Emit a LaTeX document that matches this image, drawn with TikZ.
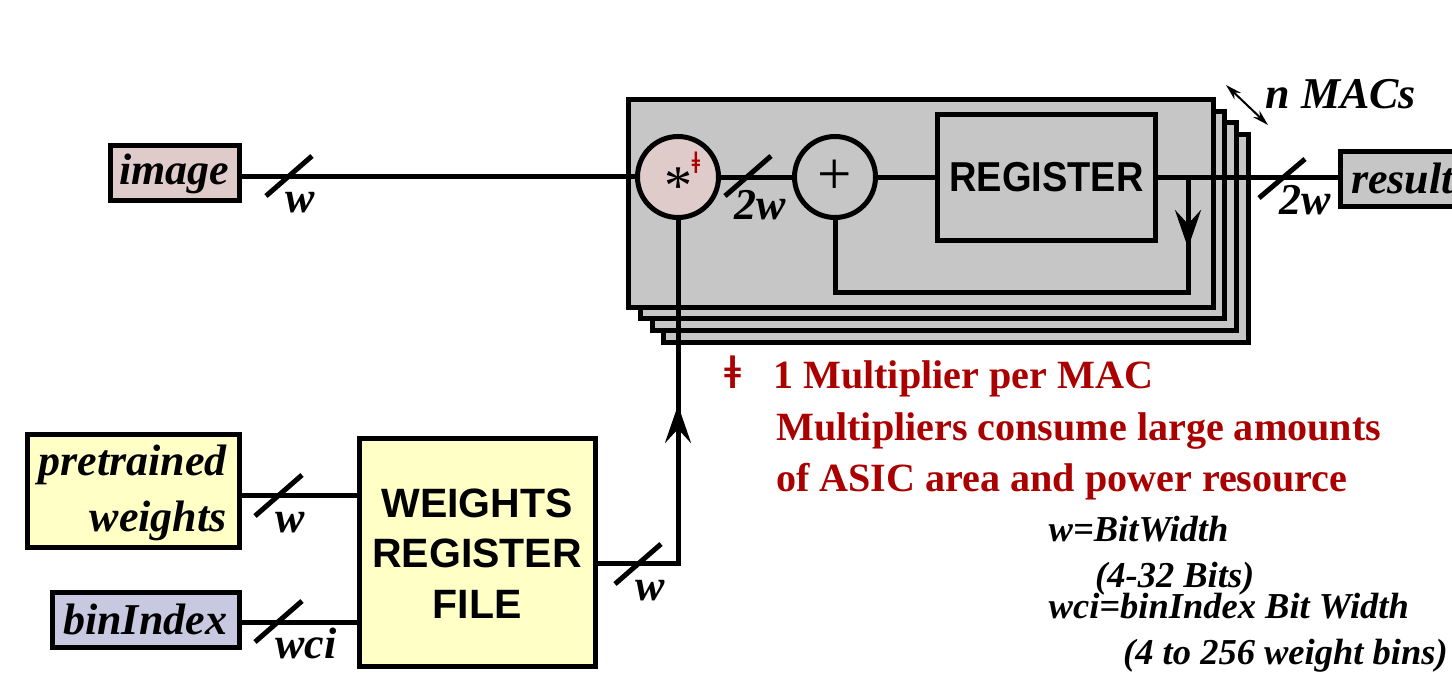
\documentclass[tikz,border=0pt]{standalone}
\usepackage{graphicx}
\usepackage{fontspec}
\setmainfont{Liberation Serif}
\setsansfont{Liberation Sans}
\usetikzlibrary{arrows.meta}
\definecolor{macgray}{RGB}{198,198,198}
\definecolor{mulpink}{RGB}{224,203,203}
\definecolor{wtyellow}{RGB}{255,255,198}
\definecolor{binblue}{RGB}{200,200,224}
\definecolor{noteRed}{RGB}{170,0,0}
\tikzset{
  wire/.style={line width=5pt,line cap=butt,line join=miter,black},
  flowtip/.style={wire,-{Stealth[length=38pt,width=26pt,inset=14pt]}},
  block/.style={draw=black,line width=5pt,inner sep=0pt,outer sep=0pt,anchor=north west},
  macbox/.style={block,fill=macgray},
  round op/.style={draw=black,line width=5pt,circle,minimum size=81pt,inner sep=0pt,outer sep=0pt},
  ital/.style={font=\fontsize{44}{44}\selectfont\bfseries\itshape,inner sep=0pt,anchor=base west},
  small ital/.style={font=\fontsize{36.5}{36.5}\selectfont\bfseries\itshape,inner sep=0pt,anchor=base west},
  hw/.style={font=\fontsize{41}{41}\selectfont\sffamily\bfseries,inner sep=0pt,anchor=base},
  note/.style={font=\fontsize{40.1}{40.1}\selectfont\bfseries,text=noteRed,inner sep=0pt,anchor=base west}
}
\begin{document}
\begin{tikzpicture}[x=1pt,y=-1pt]
\useasboundingbox (0,0) rectangle (1452,685);
% stacked MAC boxes
\node[macbox,minimum width=585pt,minimum height=208pt] (m4) at (663,134) {};
\node[macbox,minimum width=584pt,minimum height=208pt] (m3) at (652,122) {};
\node[macbox,minimum width=584pt,minimum height=207pt] (m2) at (640,111) {};
\node[macbox,minimum width=585pt,minimum height=207pt] (m1) at (628,100) {};
% nodes
\node[round op,fill=mulpink] (mul) at (678,177) {};
\node[round op,fill=macgray] (add) at (835,177) {};
\node[macbox,minimum width=218pt,minimum height=126pt] (reg) at (937,114) {};
\node[hw,font=\fontsize{38}{38}\selectfont\sffamily\bfseries] (regt) at (1046.5,191) {\scalebox{1}[1.1]{REGISTER}};
\node[inner sep=0pt,font=\fontsize{56}{56}\selectfont] (mulsym) at (678,186) {*};
\node[inner sep=0pt,font=\fontsize{61}{61}\selectfont] (addsym) at (835,177) {+};
\node[inner sep=0pt,text=noteRed,font=\fontsize{31}{31}\selectfont\bfseries] (dag) at (696,163) {ǂ};
\node[macbox,minimum width=129pt,minimum height=55pt,fill=mulpink] (image) at (110,145) {};
\node[macbox,minimum width=212pt,minimum height=113pt,fill=wtyellow] (pre) at (27,434) {};
\node[macbox,minimum width=187pt,minimum height=55pt,fill=binblue] (bin) at (52,592) {};
\node[macbox,minimum width=236pt,minimum height=228pt,fill=wtyellow] (wrf) at (359,438) {};
\node[macbox,minimum width=150pt,minimum height=55pt] (res) at (1340,151) {};
% helper coordinates
\coordinate (regtap) at (1188,177);
\coordinate (fbcorner) at (1188,292);
\coordinate (addcorner) at (835,292);
\coordinate (wout) at (678,563);
\coordinate (wmid) at (678,405);
\coordinate (nA) at (1226,85);
\coordinate (nB) at (1268,125);
\coordinate (s1a) at (266,196); \coordinate (s1b) at (312,156);
\coordinate (s2a) at (725,196); \coordinate (s2b) at (771,156);
\coordinate (s3a) at (1259,198); \coordinate (s3b) at (1305,159);
\coordinate (s4a) at (255,516); \coordinate (s4b) at (302,475);
\coordinate (s5a) at (255,642); \coordinate (s5b) at (302,601);
\coordinate (s6a) at (615,584); \coordinate (s6b) at (661,544);
% connectors
\draw[wire] (image.east |- 0,176) -- (mul.west |- 0,176);
\draw[wire] (mul.east) -- (add.west);
\draw[wire] (add.east) -- (add.east -| reg.west);
\draw[wire] (reg.east |- regtap) -- (regtap -| res.west);
\draw[wire] (regtap) -- (fbcorner) -- (addcorner) -- (add.south);
\draw[flowtip] (regtap) -- (1188,248);
\draw[wire] (pre.east |- 0,495) -- (wrf.west |- 0,495);
\draw[wire] (bin.east |- 0,622) -- (wrf.west |- 0,622);
\draw[wire] (wrf.east |- wout) -- (wout) -- (mul.south);
\draw[flowtip] (wout) -- (wmid);
\draw[line width=2pt,{Stealth[length=16pt,width=9pt,inset=5pt]}-{Stealth[length=16pt,width=9pt,inset=5pt]}] (nA) -- (nB);
\foreach \k in {1,...,6} \draw[wire] (s\k a) -- (s\k b);
% labels
\node[ital] (timage) at (119,184) {image};
\node[ital,anchor=base east] (tpre) at (227,475) {pretrained};
\node[ital,anchor=base east] (tpre2) at (227,531) {weights};
\node[ital] (tbin) at (63,634) {binIndex};
\node[ital] (tres) at (1351,193) {result};
\node[ital] (tw1) at (285,212) {w};
\node[ital] (t2w1) at (734,219) {2w};
\node[ital] (t2w2) at (1279,214) {2w};
\node[ital] (tw2) at (275,532) {w};
\node[ital] (twci) at (275,658) {wci};
\node[ital] (tw3) at (635,600) {w};
\node[ital] (tmacs) at (1265.5,108) {n MACs};
\node[hw] (tw) at (477,517) {WEIGHTS};
\node[hw] (tr) at (477,567) {REGISTER};
\node[hw] (tf) at (477,618) {FILE};
\node[note,font=\fontsize{47}{47}\selectfont\bfseries] (bigdag) at (724,388) {\scalebox{1.3}[1]{ǂ}};
\node[note] (n1) at (773,388) {1 Multiplier per MAC};
\node[note] (n2) at (776,440) {Multipliers consume large amounts};
\node[note] (n3) at (776,491) {of ASIC area and power resource};
\node[small ital] (k1) at (1048.5,541) {w=BitWidth};
\node[small ital] (k2) at (1095,587) {(4-32 Bits)};
\node[small ital] (k3) at (1048.5,618) {wci=binIndex Bit Width};
\node[small ital] (k4) at (1123,664) {(4 to 256 weight bins)};
\end{tikzpicture}
\end{document}
